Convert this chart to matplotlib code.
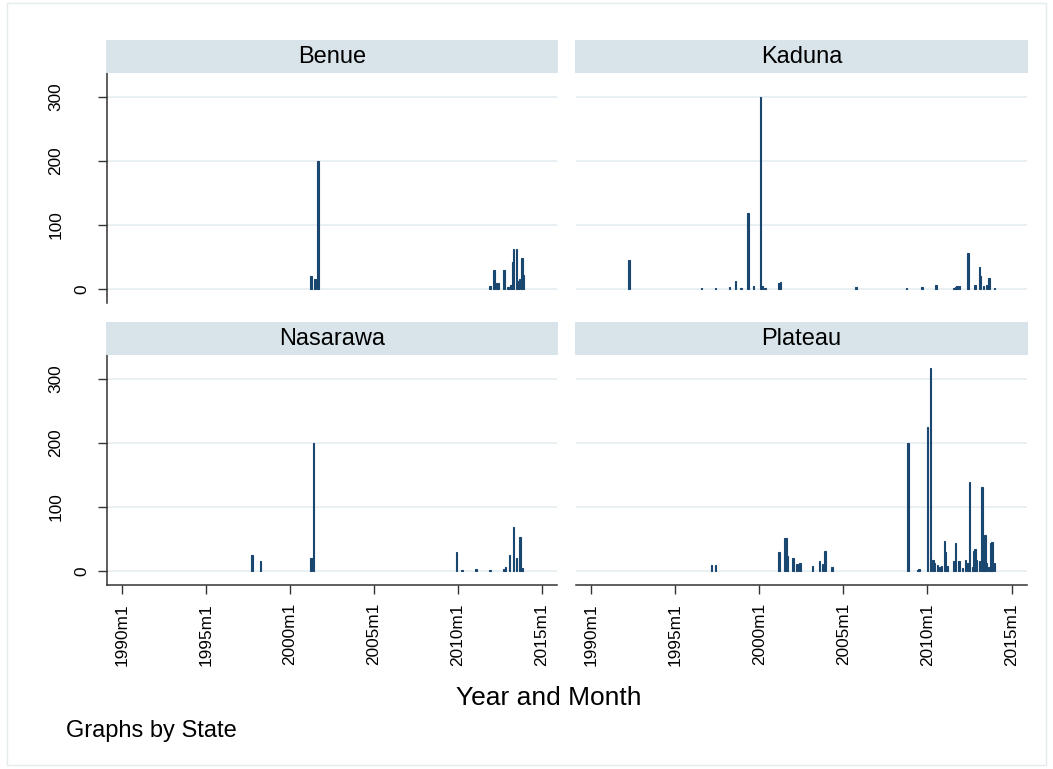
#!/usr/bin/env python3

import matplotlib
matplotlib.use('Agg')
from matplotlib import pyplot as plt
from matplotlib.patches import Rectangle
from matplotlib.transforms import ScaledTranslation

# fatalities per month, by state
benue_dates = ['2001m4', '2001m7', '2001m9', '2011m12', '2012m3', '2012m5',
               '2012m6', '2012m10', '2013m1', '2013m3', '2013m4', '2013m5',
               '2013m7', '2013m8', '2013m9', '2013m11', '2013m12']
benue_deaths = [21, 16, 200, 5, 30, 10, 10, 30, 3, 7, 42, 63, 62, 13, 15, 48, 22]

kaduna_dates = ['1992m4', '1996m8', '1997m6', '1998m4', '1998m8', '1998m12',
                '1999m5', '1999m9', '2000m2', '2000m3', '2000m5', '2001m3',
                '2001m4', '2005m10', '2008m10', '2009m9', '2010m7', '2011m8',
                '2011m9', '2011m10', '2011m12', '2012m6', '2012m11', '2013m2',
                '2013m3', '2013m5', '2013m7', '2013m9', '2014m1']
kaduna_deaths = [46, 2, 2, 3, 13, 2, 118, 4, 300, 4, 1, 10, 11, 3, 2, 3, 7, 1,
                 3, 4, 5, 57, 6, 35, 21, 4, 7, 17, 2]

nasarawa_dates = ['1997m10', '1998m4', '2001m4', '2001m6', '2009m12', '2010m4',
                  '2011m2', '2011m12', '2012m10', '2012m11', '2013m2', '2013m5',
                  '2013m7', '2013m9', '2013m10', '2013m11']
nasarawa_deaths = [25, 15, 21, 200, 30, 2, 3, 2, 3, 6, 25, 68, 21, 53, 53, 5]

plateau_dates = ['1997m3', '1997m6', '2001m3', '2001m7', '2001m8', '2001m9',
                 '2002m1', '2002m4', '2002m6', '2003m3', '2003m8', '2003m10',
                 '2003m12', '2004m5', '2008m11', '2009m6', '2009m7', '2010m1',
                 '2010m3', '2010m5', '2010m6', '2010m8', '2010m10', '2010m11',
                 '2011m1', '2011m2', '2011m3', '2011m8', '2011m9', '2011m11',
                 '2011m12', '2012m2', '2012m4', '2012m6', '2012m7', '2012m9',
                 '2012m10', '2012m11', '2012m12', '2013m2', '2013m4', '2013m5',
                 '2013m6', '2013m7', '2013m9', '2013m10', '2013m11', '2014m1']
plateau_deaths = [9, 9, 29, 51, 51, 23, 21, 11, 13, 8, 15, 11, 31, 6, 200, 2,
                  3, 225, 317, 17, 12, 9, 7, 8, 47, 30, 8, 16, 43, 16, 16, 4,
                  17, 13, 139, 7, 31, 34, 17, 16, 131, 22, 57, 13, 6, 43, 46, 12]

states = ['Benue', 'Kaduna', 'Nasarawa', 'Plateau']
x_ticks = ['1990m1', '1995m1', '2000m1', '2005m1', '2010m1', '2015m1']
y_ticks = [0, 100, 200, 300]

NAVY = '#1a476f'
GRID = '#e9f0f3'
STRIP = '#d9e4ea'
AXIS = '#333333'
W, H = 1053, 769
TICK_FS = 12.4


def monthly(s):
    # Stata %tm: months since 1960m1
    y, m = s.split('m')
    return (int(y) - 1960) * 12 + int(m) - 1


def box(x0, y0, x1, y1):
    return [x0 / W, 1 - y1 / H, (x1 - x0) / W, (y1 - y0) / H]


def main():
    plt.rcParams['font.family'] = ['Liberation Sans', 'DejaVu Sans']
    plt.rcParams['xtick.labelsize'] = TICK_FS
    plt.rcParams['ytick.labelsize'] = TICK_FS
    fig = plt.figure(figsize=(W / 100, H / 100), dpi=100)

    data = [(benue_dates, benue_deaths), (kaduna_dates, kaduna_deaths),
            (nasarawa_dates, nasarawa_deaths), (plateau_dates, plateau_deaths)]
    cols = [(107, 557), (576, 1027)]
    rows = [(73, 303), (355, 585)]

    for i, (name, (dates, deaths)) in enumerate(zip(states, data)):
        r, c = divmod(i, 2)
        x0, x1 = cols[c]
        y0, y1 = rows[r]
        ax = fig.add_axes(box(x0, y0, x1, y1))
        ax.bar([monthly(d) for d in dates], deaths, width=1, color=NAVY,
               edgecolor=NAVY, linewidth=0.8, zorder=3)
        ax.set_xlim(349.3, 671)
        ax.set_ylim(-21.9, 337.5)
        ax.grid(axis='y', color=GRID, linewidth=1.4)
        ax.grid(axis='x', visible=False)
        ax.set_axisbelow(True)
        for s in ['top', 'right']:
            ax.spines[s].set_visible(False)
        for s in ['left', 'bottom']:
            ax.spines[s].set_color(AXIS)
            ax.spines[s].set_linewidth(1.1)
        ax.tick_params(color=AXIS, length=6.5, width=1)

        ax.set_yticks(y_ticks)
        if c == 0:
            ax.set_yticklabels([str(v) for v in y_ticks], rotation=90,
                               va='center', ha='right')
            ax.tick_params(axis='y', pad=25)
            for lab in ax.get_yticklabels():
                lab.set_fontsize(TICK_FS)
                if lab.get_text() == '0':
                    lab.set_transform(lab.get_transform() +
                                      ScaledTranslation(0.26, 0, fig.dpi_scale_trans))
        else:
            ax.spines['left'].set_visible(False)
            ax.tick_params(axis='y', left=False, labelleft=False)

        ax.set_xticks([monthly(t) for t in x_ticks])
        if r == 1:
            ax.set_xticklabels(x_ticks, rotation=90, ha='center', va='top')
            ax.tick_params(axis='x', pad=6.5)
            for lab in ax.get_xticklabels():
                lab.set_fontsize(TICK_FS)
        else:
            ax.spines['bottom'].set_visible(False)
            ax.tick_params(axis='x', bottom=False, labelbottom=False)

        # strip title above each panel
        sax = fig.add_axes(box(x0 - 1, y0 - 33, x1 + 1, y0))
        sax.set_facecolor(STRIP)
        sax.set_xticks([])
        sax.set_yticks([])
        for s in sax.spines.values():
            s.set_visible(False)
        sax.text(0.5, 0.48, name, ha='center', va='center', fontsize=17,
                 transform=sax.transAxes)

    fig.text(549 / W, 1 - 698 / H, 'Year and Month', ha='center', va='center',
             fontsize=19)
    fig.text(66 / W, 1 - 731 / H, 'Graphs by State', ha='left', va='center',
             fontsize=17)
    fig.patches.append(Rectangle((7 / W, 1 - 765 / H), 1039 / W, 762 / H,
                                 transform=fig.transFigure, fill=False,
                                 edgecolor='#e3ebee', linewidth=1))

    fig.savefig('out.png', dpi=100, facecolor='white')


if __name__ == '__main__':
    main()
